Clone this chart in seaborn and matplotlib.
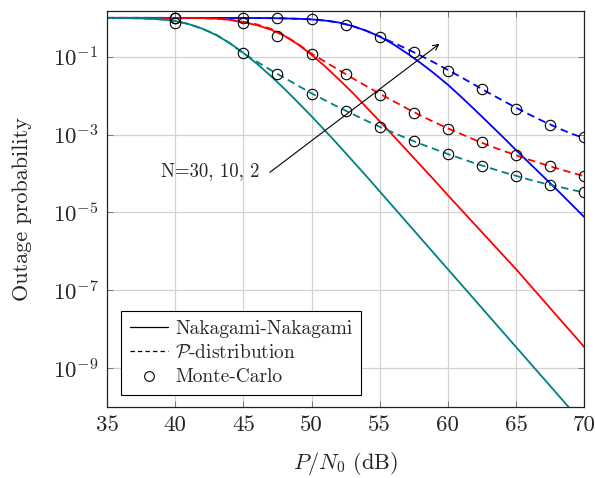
import matplotlib
matplotlib.use("Agg")
import matplotlib.pyplot as plt
from matplotlib.lines import Line2D
from matplotlib.ticker import FixedLocator, NullLocator
import numpy as np
import seaborn as sns

# ── data ────────────────────────────────────────────────────
SNR_DB = list(range(35, 71))

# log10(outage probability), analytic curves
NN_N30 = [0, 0, 0, 0, 0, -0.0005, -0.0007, -0.001, -0.0015, -0.002,
          -0.003, -0.005, -0.008, -0.014, -0.024, -0.04, -0.07, -0.12, -0.21, -0.33,
          -0.48, -0.68, -0.91, -1.16, -1.43, -1.72, -2.04, -2.37, -2.71, -3.05,
          -3.40, -3.74, -4.08, -4.42, -4.77, -5.12]
NN_N10 = [-0.0002, -0.0003, -0.0005, -0.001, -0.002, -0.003, -0.005, -0.009, -0.02, -0.05,
          -0.11, -0.19, -0.30, -0.46, -0.68, -0.95, -1.25, -1.58, -1.92, -2.29,
          -2.66, -3.03, -3.41, -3.79, -4.17, -4.56, -4.94, -5.32, -5.70, -6.08,
          -6.46, -6.86, -7.26, -7.66, -8.06, -8.46]
NN_N2 = [-0.003, -0.005, -0.01, -0.02, -0.04, -0.08, -0.16, -0.28, -0.44, -0.65,
         -0.90, -1.18, -1.49, -1.82, -2.17, -2.53, -2.90, -3.28, -3.67, -4.06,
         -4.46, -4.86, -5.26, -5.66, -6.06, -6.46, -6.86, -7.26, -7.66, -8.06,
         -8.46, -8.86, -9.26, -9.66, -10.06, -10.46]

P_N30 = [0, 0, 0, 0, 0, -0.0005, -0.0007, -0.001, -0.0015, -0.002,
         -0.003, -0.005, -0.008, -0.014, -0.024, -0.04, -0.07, -0.12, -0.21, -0.33,
         -0.48, -0.64, -0.80, -0.97, -1.15, -1.34, -1.53, -1.73, -1.93, -2.12,
         -2.31, -2.49, -2.66, -2.82, -2.97, -3.09]
P_N10 = [-0.0002, -0.0003, -0.0005, -0.001, -0.002, -0.003, -0.005, -0.009, -0.02, -0.05,
         -0.10, -0.17, -0.28, -0.45, -0.67, -0.92, -1.13, -1.34, -1.55, -1.75,
         -1.95, -2.14, -2.33, -2.51, -2.68, -2.84, -2.99, -3.14, -3.28, -3.41,
         -3.53, -3.65, -3.76, -3.87, -3.97, -4.07]
P_N2 = [-0.003, -0.005, -0.01, -0.02, -0.04, -0.08, -0.16, -0.28, -0.43, -0.65,
        -0.91, -1.13, -1.34, -1.54, -1.74, -1.94, -2.12, -2.30, -2.47, -2.64,
        -2.80, -2.95, -3.10, -3.24, -3.37, -3.50, -3.62, -3.74, -3.85, -3.96,
        -4.06, -4.16, -4.25, -4.33, -4.41, -4.49]

# Monte-Carlo points (outage probability)
MC_SNR = [40, 45, 47.5, 50, 52.5, 55, 57.5, 60, 62.5, 65, 67.5, 70]
MC_N30 = [1.0, 1.0, 0.99, 0.93, 0.66, 0.33, 0.13, 0.044, 0.015, 4.5e-3, 1.8e-3, 8.5e-4]
MC_N10 = [1.0, 0.73, 0.35, 0.117, 0.036, 0.0106, 3.6e-3, 1.4e-3, 6.3e-4, 2.95e-4, 1.6e-4, 8.5e-5]
MC_N2 = [0.73, 0.124, 0.036, 0.011, 4.1e-3, 1.58e-3, 6.7e-4, 3.2e-4, 1.6e-4, 8.5e-5, 5.2e-5, 3.4e-5]

X_TICKS = [35, 40, 45, 50, 55, 60, 65, 70]
Y_TICKS = [1e-9, 1e-7, 1e-5, 1e-3, 1e-1]
Y_TICK_LABELS = [r"$10^{-9}$", r"$10^{-7}$", r"$10^{-5}$", r"$10^{-3}$", r"$10^{-1}$"]

COLORS = {"N30": "#0000ff", "N10": "#ff0000", "N2": "#008080"}

# ── style ───────────────────────────────────────────────────
sns.set_style("ticks")
plt.rcParams["font.family"] = ["cmr10", "DejaVu Serif"]
plt.rcParams["mathtext.fontset"] = "cm"
plt.rcParams["axes.formatter.use_mathtext"] = True
plt.rcParams["axes.unicode_minus"] = False

fig = plt.figure(figsize=(5.95, 4.78), dpi=100)
ax = fig.add_axes([0.1798, 0.1485, 0.8022, 0.8285])
ax.set_yscale("log")

DASH = (0, (4.2, 2.6))
LW = 1.3

for key, nn, pd_ in [("N30", NN_N30, P_N30), ("N10", NN_N10, P_N10), ("N2", NN_N2, P_N2)]:
    sns.lineplot(x=SNR_DB, y=10.0 ** np.array(nn), ax=ax, color=COLORS[key],
                 lw=LW, zorder=2)
    sns.lineplot(x=SNR_DB, y=10.0 ** np.array(pd_), ax=ax, color=COLORS[key],
                 lw=LW, linestyle=DASH, zorder=2)

for mc in (MC_N30, MC_N10, MC_N2):
    sns.lineplot(x=MC_SNR, y=mc, ax=ax, marker="o", linestyle="", ms=7.5,
                 mfc="none", mec="black", mew=0.8, color="black", zorder=3)

ax.set_xlim(35, 70)
ax.set_ylim(1e-10, 1.5)
ax.xaxis.set_major_locator(FixedLocator(X_TICKS))
ax.yaxis.set_major_locator(FixedLocator(Y_TICKS))
ax.yaxis.set_minor_locator(NullLocator())
ax.set_yticklabels(Y_TICK_LABELS)
ax.set_xticklabels([str(v) for v in X_TICKS])

ax.grid(True, which="major", color="#d2d2d2", lw=0.9)
ax.set_axisbelow(True)
ax.tick_params(direction="in", top=True, right=True, length=4, width=0.7,
               color="#777777", labelsize=16.5, pad=6)
for sp in ax.spines.values():
    sp.set_color("#222222")
    sp.set_linewidth(0.9)

ax.set_xlabel(r"$P/N_0$ (dB)", fontsize=16, labelpad=11)
ax.set_ylabel("Outage probability", fontsize=16, labelpad=15)

# annotation arrow
ax.annotate("", xy=(59.38, 0.215), xytext=(46.94, 1.07e-4),
            arrowprops=dict(arrowstyle="->", lw=0.8, color="black",
                            shrinkA=0, shrinkB=0))
ax.text(42.6, 1.12e-4, "N=30, 10, 2", ha="center", va="center", fontsize=13.5)

handles = [
    Line2D([], [], color="black", lw=0.9, ls="-"),
    Line2D([], [], color="black", lw=0.9, ls=(0, (3.5, 2.5))),
    Line2D([], [], color="black", ls="", marker="o", ms=7, mfc="none", mew=0.8),
]
labels = ["Nakagami-Nakagami", r"$\mathcal{P}$-distribution", "Monte-Carlo"]
leg = ax.legend(handles, labels, loc="lower left", bbox_to_anchor=(0.029, 0.03),
                fontsize=14, frameon=True, fancybox=False, framealpha=1,
                edgecolor="black", handlelength=2.0, handletextpad=0.35,
                labelspacing=0.32, borderpad=0.45, borderaxespad=0)
leg.get_frame().set_linewidth(0.8)

fig.savefig("out.png", dpi=100)
